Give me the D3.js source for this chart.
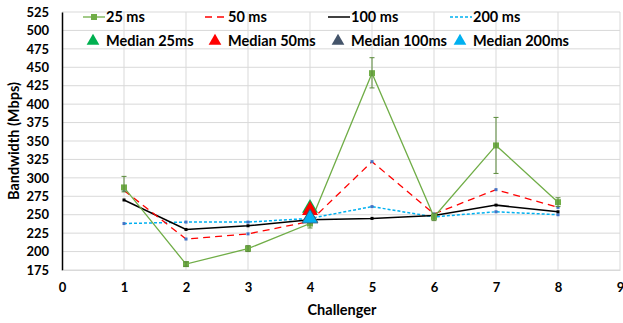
<!DOCTYPE html>
<html><head><meta charset="utf-8">
<script src="https://cdn.jsdelivr.net/npm/d3@7/dist/d3.min.js"></script>
<style>body{margin:0;background:#fff}svg{display:block}text{font-family:Lato,"Open Sans",sans-serif;font-weight:bold;fill:#000}</style>
</head><body><svg id="c" width="623" height="323"></svg>
<script>
const challengers = [1,2,3,4,5,6,7,8];
const xTicks = [0,1,2,3,4,5,6,7,8,9];
const yTicks = [175,200,225,250,275,300,325,350,375,400,425,450,475,500,525];
const ms25 = [287,183,204,238,442,247,344,267];
const ms25Lo = [281,180,200,232,422,242,306,261];
const ms25Hi = [302,186,208,244,463,252,382,273];
const ms50 = [283,217,224,241,322,251,284,260];
const ms100 = [270,230,235,243,245,249,263,254];
const ms200 = [238,240,240,245,261,247,254,250];
const medianX = 4;
const medians = [{name:"Median 25ms",v:259,c:"#00b050"},{name:"Median 50ms",v:256,c:"#ff0000"},{name:"Median 100ms",v:246,c:"#44546a"},{name:"Median 200ms",v:245,c:"#00b0f0"}];

const svg = d3.select("#c");
const x = d3.scaleLinear().domain([0,9]).range([62,620]);
const y = d3.scaleLinear().domain([175,525]).range([270,12]);

svg.append("g").selectAll("line").data(yTicks).join("line")
  .attr("x1",62).attr("x2",620).attr("y1",d=>y(d)).attr("y2",d=>y(d))
  .attr("stroke","#d9d9d9").attr("stroke-width",1);
svg.append("g").selectAll("line").data(xTicks.slice(1)).join("line")
  .attr("x1",d=>x(d)).attr("x2",d=>x(d)).attr("y1",12).attr("y2",270)
  .attr("stroke","#d9d9d9").attr("stroke-width",1);

const ya = svg.append("g").attr("transform","translate(62,0)")
  .call(d3.axisLeft(y).tickValues(yTicks).tickSize(0).tickPadding(13));
ya.select(".domain").attr("stroke","#000").attr("stroke-width",1.5);
ya.selectAll("text").attr("font-size",13).style("font-family","Lato,sans-serif").style("font-weight","bold");
const xa = svg.append("g").attr("transform","translate(0,270)")
  .call(d3.axisBottom(x).tickValues(xTicks).tickSize(0).tickPadding(13));
xa.select(".domain").attr("stroke","#d9d9d9");
xa.selectAll("text").attr("font-size",13).style("font-family","Lato,sans-serif").style("font-weight","bold");

svg.append("text").attr("x",342).attr("y",315).attr("text-anchor","middle").attr("font-size",14.5).text("Challenger");
svg.append("text").attr("transform","translate(19,141) rotate(-90)").attr("text-anchor","middle").attr("font-size",14.5).text("Bandwidth (Mbps)");

const line = d3.line().x((d,i)=>x(challengers[i])).y(d=>y(d));
const series = [
  {name:"25 ms",data:ms25,c:"#70ad47",dash:null,w:1.3,m:"#70ad47",ms:6},
  {name:"50 ms",data:ms50,c:"#ff0000",dash:"7,5",w:1.3,m:"#4472c4",ms:3},
  {name:"100 ms",data:ms100,c:"#000000",dash:null,w:1.5,m:"#000",ms:3},
  {name:"200 ms",data:ms200,c:"#00b0f0",dash:"3,2",w:1.5,m:"#4472c4",ms:3}
];
[series[3],series[2],series[1],series[0]].forEach(s=>{
  svg.append("path").datum(s.data).attr("d",line).attr("fill","none")
    .attr("stroke",s.c).attr("stroke-width",s.w).attr("stroke-dasharray",s.dash);
  svg.append("g").selectAll("rect").data(s.data).join("rect")
    .attr("x",(d,i)=>x(challengers[i])-s.ms/2).attr("y",d=>y(d)-s.ms/2)
    .attr("width",s.ms).attr("height",s.ms).attr("fill",s.m);
});
const eb = svg.append("g").attr("stroke","#5a8a3a").attr("stroke-width",1);
challengers.forEach((c,i)=>{
  eb.append("line").attr("x1",x(c)).attr("x2",x(c)).attr("y1",y(ms25Lo[i])).attr("y2",y(ms25Hi[i]));
  eb.append("line").attr("x1",x(c)-2.5).attr("x2",x(c)+2.5).attr("y1",y(ms25Lo[i])).attr("y2",y(ms25Lo[i]));
  eb.append("line").attr("x1",x(c)-2.5).attr("x2",x(c)+2.5).attr("y1",y(ms25Hi[i])).attr("y2",y(ms25Hi[i]));
});
const tri = d3.symbol().type(d3.symbolTriangle).size(110);
medians.forEach(m=>{
  svg.append("path").attr("d",tri).attr("transform",`translate(${x(medianX)},${y(m.v)})`)
    .attr("fill",m.c).attr("stroke", m.c==="#00b0f0"?"#44546a":"none").attr("stroke-width",0.8);
});

const lx = [83,205,328,450];
series.forEach((s,i)=>{
  const g = svg.append("g");
  g.append("line").attr("x1",lx[i]).attr("x2",lx[i]+22).attr("y1",17).attr("y2",17)
    .attr("stroke",s.c).attr("stroke-width",s.w).attr("stroke-dasharray",s.dash);
  if(i===0) g.append("rect").attr("x",lx[i]+8).attr("y",14).attr("width",6).attr("height",6).attr("fill",s.m);
  g.append("text").attr("x",lx[i]+23).attr("y",22).attr("font-size",14.5).text(s.name);
});
medians.forEach((m,i)=>{
  svg.append("path").attr("d",d3.symbol().type(d3.symbolTriangle).size(70))
    .attr("transform",`translate(${lx[i]+10},${41})`).attr("fill",m.c);
  svg.append("text").attr("x",lx[i]+23).attr("y",46).attr("font-size",14.5).text(m.name);
});
</script></body></html>
